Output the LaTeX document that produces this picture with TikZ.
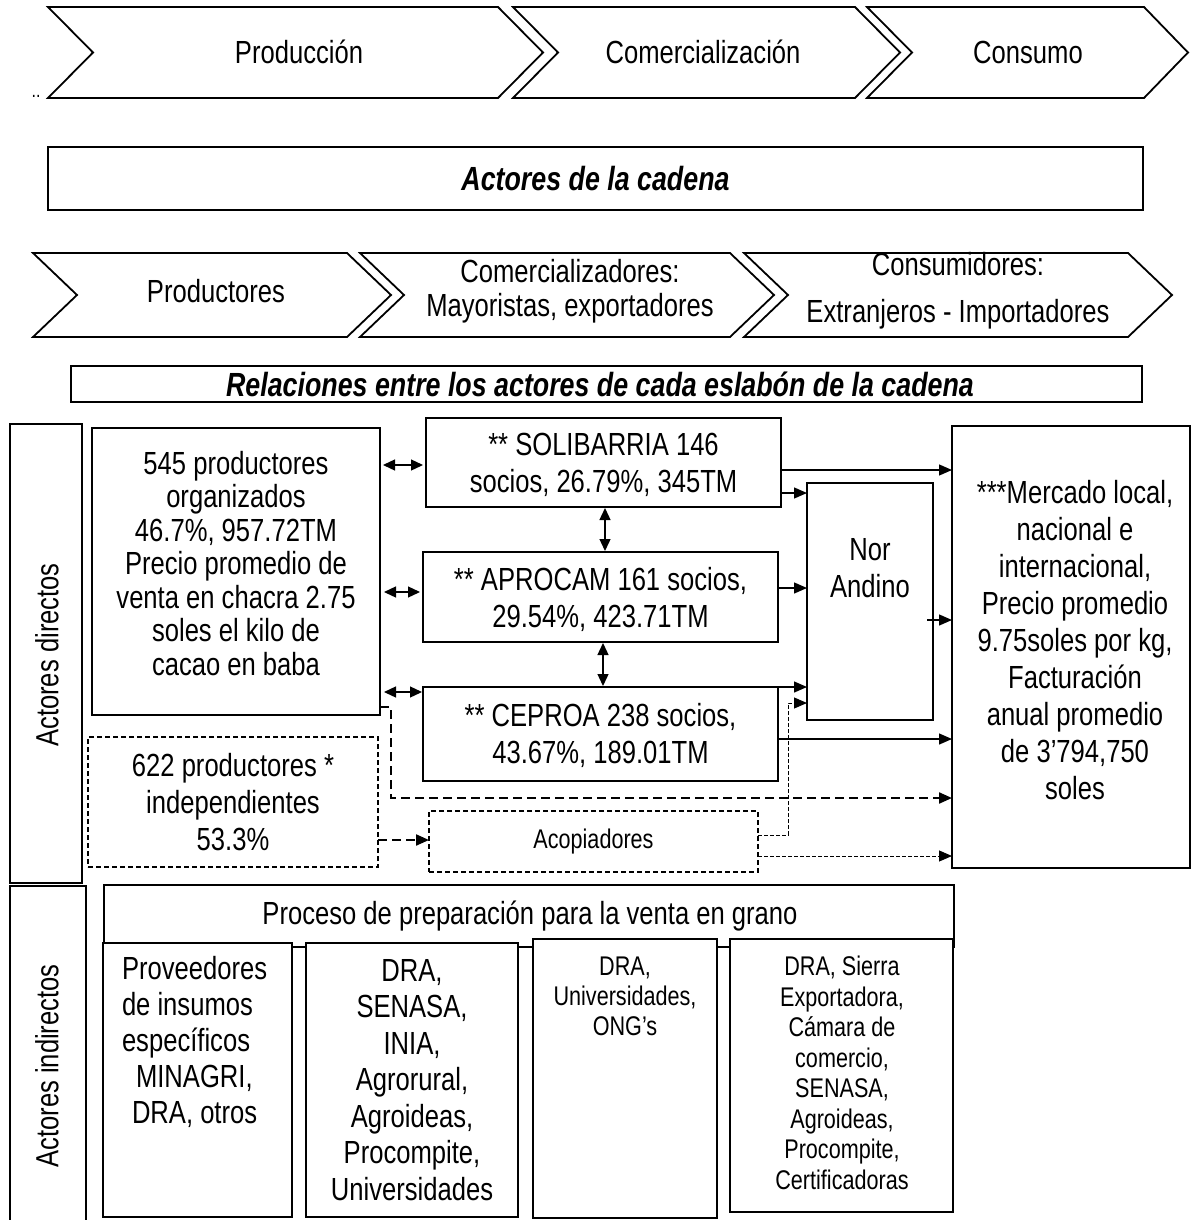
\documentclass[tikz,border=0pt]{standalone}
\usepackage{fontspec}
\setmainfont[FakeStretch=0.8]{Liberation Sans}
\usetikzlibrary{arrows.meta,calc}
\newcommand{\fM}{\fontsize{32}{33.5}\selectfont}
\newcommand{\fMb}{\fontsize{32}{36.5}\selectfont}
\newcommand{\fMc}{\fontsize{32}{37}\selectfont}
\newcommand{\fS}{\fontsize{27}{30.5}\selectfont}
\newcommand{\fSb}{\fontsize{27}{30}\selectfont}
\newcommand{\fB}{\fontsize{33.5}{36}\selectfont\bfseries\itshape}
\begin{document}
\begin{tikzpicture}[x=1pt,y=-1pt,
  every node/.style={inner sep=0pt, outer sep=0pt},
  bx/.style={draw, line width=1.8pt, fill=white},
  dbx/.style={draw, line width=1.4pt, dash pattern=on 5pt off 3pt},
  txt/.style={align=center, font=\fM},
  arr/.style={line width=1.3pt, -{Triangle[length=13pt,width=11pt]}},
  dbl/.style={line width=1.3pt, {Triangle[length=12pt,width=11pt]}-{Triangle[length=12pt,width=11pt]}},
  tdash/.style={line width=2.2pt, dash pattern=on 9pt off 5pt},
  sdash/.style={line width=1pt, dash pattern=on 4pt off 2pt},
  chev/.style={draw, line width=1.8pt, line join=miter},
]
\useasboundingbox (0,0) rectangle (1192,1220);

% ---- row 1 chevrons
\draw[chev] (48,7) -- (498,7) -- (543,52.5) -- (498,98) -- (48,98) -- (93,52.5) -- cycle;
\draw[chev] (513,7) -- (855,7) -- (900,52.5) -- (855,98) -- (513,98) -- (558,52.5) -- cycle;
\draw[chev] (867,7) -- (1144,7) -- (1188,52.5) -- (1144,98) -- (867,98) -- (912,52.5) -- cycle;
\node[txt] (t1) at (299,52) {Producción};
\node[txt] (t2) at (703,52) {Comercialización};
\node[txt] (t3) at (1028,52) {Consumo};
\node[font=\fontsize{20}{22}\selectfont] (dots) at (36,96) {..};

% ---- actores de la cadena
\node[bx, minimum width=1095pt, minimum height=63pt, font=\fB] (actores) at (595.5,178.5) {Actores de la cadena};

% ---- row 2 chevrons
\draw[chev] (33,253) -- (347,253) -- (391,295) -- (347,337) -- (33,337) -- (77,295) -- cycle;
\draw[chev] (360,253) -- (730,253) -- (774,295) -- (730,337) -- (360,337) -- (404,295) -- cycle;
\draw[chev] (744,253) -- (1128,253) -- (1172,295) -- (1128,337) -- (744,337) -- (788,295) -- cycle;
\node[txt] (r1) at (216,291) {Productores};
\node[txt] (r2) at (570,291) {Comercializadores:\\Mayoristas, exportadores};
\node[txt, font=\fontsize{32}{47}\selectfont] (r3) at (958,291) {Consumidores:\\Extranjeros - Importadores};

% ---- relaciones
\node[bx, minimum width=1071pt, minimum height=36pt] (rel) at (606.5,384) {};
\node[font=\fB] (relt) at (600,384) {Relaciones entre los actores de cada eslabón de la cadena};

% ---- actores directos column
\node[bx, minimum width=72pt, minimum height=459pt] (dir) at (46,653.5) {};
\node[txt, rotate=90] (dirt) at (47,655) {Actores directos};

% ---- main boxes
\node[bx, minimum width=288pt, minimum height=287pt] (org) at (236,571.5) {};
\node[txt] (orgt) at (236,563.5)
  {545 productores\\organizados\\46.7\%, 957.72TM\\Precio promedio de\\venta en chacra 2.75\\soles el kilo de\\cacao en baba};
\node[bx, minimum width=355pt, minimum height=89pt] (soli) at (603.5,462.5) {};
\node[txt, font=\fMc] (solit) at (603.5,465) {** SOLIBARRIA 146\\socios, 26.79\%, 345TM};
\node[bx, minimum width=355pt, minimum height=90pt] (apro) at (600.5,597) {};
\node[txt, font=\fMc] (aprot) at (600.5,599) {** APROCAM 161 socios,\\29.54\%, 423.71TM};
\node[bx, minimum width=355pt, minimum height=94pt] (ceproa) at (600.5,734) {};
\node[txt, font=\fMc] (ceproat) at (600.5,735) {** CEPROA 238 socios,\\43.67\%, 189.01TM};
\node[bx, minimum width=126pt, minimum height=237pt] (nor) at (870,601.5) {};
\node[txt, font=\fMc] (nort) at (870,568) {Nor\\Andino};
\node[bx, minimum width=238pt, minimum height=442pt] (merc) at (1071,647) {};
\node[txt, font=\fMc] (merct) at (1075,640)
  {***Mercado local,\\nacional e\\internacional,\\Precio promedio\\9.75soles por kg,\\Facturación\\anual promedio\\de 3’794,750\\soles};
\node[dbx, txt, font=\fMc, minimum width=290pt, minimum height=130pt] (indep) at (233,802)
  {622 productores *\\independientes\\53.3\%};
\node[dbx, txt, font=\fS, minimum width=329pt, minimum height=61pt] (acop) at (593.5,841.5) {Acopiadores};

% ---- connectors
\coordinate (q1) at (0,465);
\coordinate (q2) at (0,592);
\coordinate (q3) at (0,692);
\draw[dbl, shorten <=3pt, shorten >=3pt] (org.east |- q1) -- (soli.west |- q1);
\draw[dbl, shorten <=4pt, shorten >=3pt] (org.east |- q2) -- (apro.west |- q2);
\draw[dbl, shorten <=4pt, shorten >=1pt] (org.east |- q3) -- (ceproa.west |- q3);
\coordinate (vA) at (605,0);
\coordinate (vB) at (603,0);
\draw[dbl, shorten <=1pt, shorten >=1pt] (soli.south -| vA) -- (apro.north -| vA);
\draw[dbl, shorten <=1pt, shorten >=1pt] (apro.south -| vB) -- (ceproa.north -| vB);

\coordinate (pA) at (0,470);
\draw[arr] (soli.east |- pA) -- (merc.west |- pA);
\coordinate (pB) at (0,493);
\draw[arr] (soli.east |- pB) -- (nor.west |- pB);
\coordinate (pC) at (0,588);
\draw[arr] (apro.east |- pC) -- (nor.west |- pC);
\coordinate (pD) at (727,687);
\draw[arr] (pD) -- (nor.west |- pD);
\coordinate (pE) at (927,620);
\draw[arr] (pE) -- (merc.west |- pE);
\coordinate (pF) at (0,739);
\draw[arr] (ceproa.east |- pF) -- (merc.west |- pF);
\coordinate (pG) at (391,707);
\coordinate (pH) at (0,798);
\draw[arr, tdash] (org.east |- pG) -- (pG) -- (pG |- pH) -- (merc.west |- pH);
\coordinate (pI) at (0,840);
\draw[arr, tdash] (indep.east |- pI) -- (acop.west |- pI);
\coordinate (pJ) at (788,835);
\coordinate (pK) at (0,703);
\draw[arr, sdash] (acop.east |- pJ) -- (pJ) -- (pJ |- pK) -- (nor.west |- pK);
\coordinate (pL) at (0,856);
\draw[arr, sdash] (acop.east |- pL) -- (merc.west |- pL);

% ---- actores indirectos
\node[bx, minimum width=76pt, minimum height=340pt, anchor=north west] (ind) at (10,886) {};
\node[txt, rotate=90] (indt) at (47,1066) {Actores indirectos};

\node[bx, minimum width=850pt, minimum height=62pt, anchor=north west] (proc) at (104,885) {};
\node[txt] (proct) at (530,916) {Proceso de preparación para la venta en grano};

\node[bx, minimum width=189pt, minimum height=274pt, anchor=north west] (b1) at (103,943) {};
\node[bx, minimum width=212pt, minimum height=274pt, anchor=north west] (b2) at (306,943) {};
\node[bx, minimum width=184pt, minimum height=279pt, anchor=north west] (b3) at (533,939) {};
\node[bx, minimum width=223pt, minimum height=273pt, anchor=north west] (b4) at (730,939) {};

\node[align=left, font=\fontsize{32}{36}\selectfont, anchor=west] (b1t) at (122,1042)
  {Proveedores\\de insumos\\específicos\\\hspace*{14pt}MINAGRI,\\\hspace*{10pt}DRA, otros};
\node[txt, font=\fMb] (b2t) at (412,1080)
  {DRA,\\SENASA,\\INIA,\\Agrorural,\\Agroideas,\\Procompite,\\Universidades};
\node[txt, font=\fSb] (b3t) at (625,996) {DRA,\\Universidades,\\ONG’s};
\node[txt, font=\fS] (b4t) at (842,1073)
  {DRA, Sierra\\Exportadora,\\Cámara de\\comercio,\\SENASA,\\Agroideas,\\Procompite,\\Certificadoras};
\end{tikzpicture}
\end{document}
